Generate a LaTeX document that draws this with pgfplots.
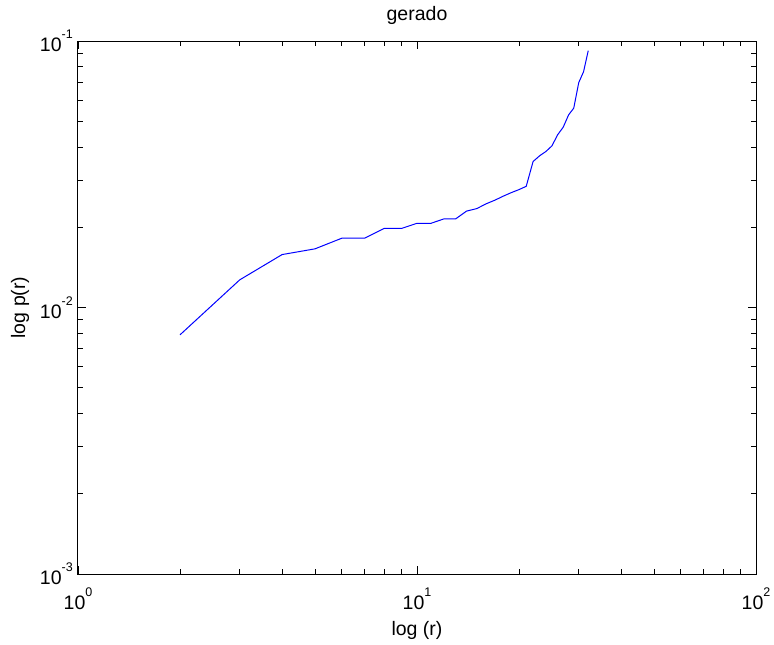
\documentclass[border=0pt]{standalone}
\usepackage{fontspec}
\setmainfont{Liberation Sans}
\usepackage{pgfplots}
\pgfplotsset{compat=1.18}
\newcommand\ff{\fontsize{19.5}{23}\selectfont}
\newcommand\tp[1]{10\raisebox{13pt}{\fontsize{12.5}{12.5}\selectfont #1}}
\begin{document}
\begin{tikzpicture}
\path[use as bounding box] (-78pt,-71pt) rectangle (696pt,574pt);
\begin{axis}[
    at={(0pt,0pt)}, anchor=south west,
    scale only axis,
    width=678pt, height=533pt,
    xmode=log, ymode=log,
    xmin=1, xmax=100,
    ymin=1e-3, ymax=1e-1,
    xtick={1,10,100},
    xticklabels={\tp{0},\tp{1},\tp{2}},
    ytick={0.001,0.01,0.1},
    yticklabels={\tp{-3},\tp{-2},\tp{-1}},
    axis line style={line width=1pt},
    major tick length=8pt,
    minor tick length=5pt,
    tick style={black, line width=0.8pt},
    tick align=inside,
    xticklabel style={font=\ff, anchor=base, inner sep=0pt, yshift=-35pt},
    yticklabel style={font=\ff, anchor=east, inner sep=0pt, xshift=-5pt},
    title={gerado},
    title style={font=\ff, at={(axis description cs:0.5,1)}, anchor=base, yshift=15pt},
    xlabel={log (r)},
    xlabel style={font=\ff, at={(axis description cs:0.5,0)}, anchor=base, yshift=-61pt},
    ylabel={log p(r)},
    ylabel style={font=\ff, at={(axis description cs:0,0.5)}, anchor=center, yshift=58pt},
]
\addplot[blue, line width=1pt] coordinates {
(2,0.0079) (3,0.0127) (4,0.0158) (5,0.0166) (6,0.0182) (7,0.0182)
(8,0.0198) (9,0.0198) (10,0.0207) (11,0.0207) (12,0.0215) (13,0.0215)
(14,0.0230) (15,0.0235) (16,0.0245) (17,0.0253) (18,0.0262) (19,0.0270)
(20,0.0277) (21,0.0285) (22,0.0353) (23,0.0371) (24,0.0385) (25,0.0404)
(26,0.0445) (27,0.0475) (28,0.0528) (29,0.0560) (30,0.0698) (31,0.0767)
(32,0.0920)
};
\end{axis}
\end{tikzpicture}
\end{document}
